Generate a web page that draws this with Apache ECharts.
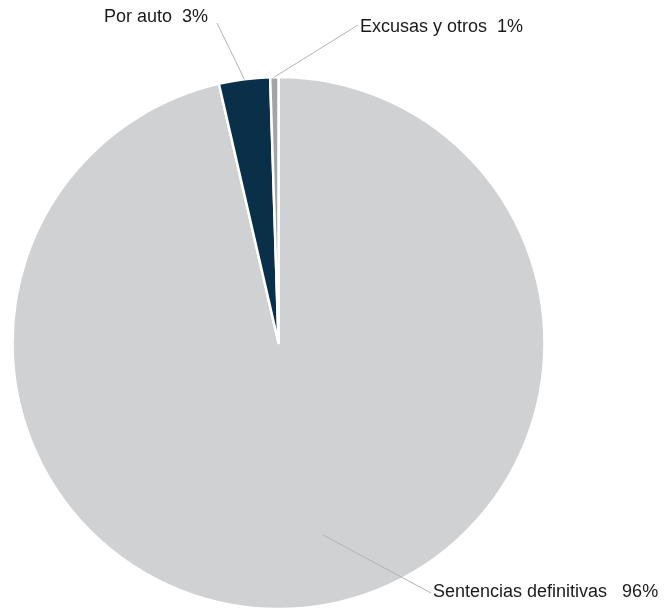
<!DOCTYPE html>
<html>
<head>
<meta charset="utf-8">
<script src="https://cdn.jsdelivr.net/npm/echarts@6/dist/echarts.min.js"></script>
<style>
  html, body { margin: 0; padding: 0; background: #ffffff; }
  #chart { width: 664px; height: 609px; }
</style>
</head>
<body>
<div id="chart"></div>
<script>
// ---- data ----
const categories = ['Sentencias definitivas', 'Por auto', 'Excusas y otros'];
const values = [96.4, 3.1, 0.5];
const colors = ['#D0D1D3', '#0A2F49', '#A3A4A6'];

// ---- label placement (annotation layout) ----
const CX = 278.5, CY = 343, R = 266;
const labelCfg = [
  { x: 433, y: 592, align: 'left',  sep: '   ', startFrac: 0.74, angleOffset: -6.5, end: [431, 593] },
  { x: 208, y: 17,  align: 'right', sep: '  ',  startFrac: 1.0,  angleOffset: 0,    end: [217, 23] },
  { x: 360, y: 27,  align: 'left',  sep: '  ',  startFrac: 1.0,  angleOffset: 0,    end: [358, 25] }
];

const total = values.reduce((a, b) => a + b, 0);
const midAngles = [];
let cum = 0;
values.forEach(v => { midAngles.push((cum + v / 2) / total * 360); cum += v; });

// leader lines: from a point on each slice's mid-angle ray to its label
const leaderLines = labelCfg.map((c, i) => {
  const th = (midAngles[i] + c.angleOffset) * Math.PI / 180;
  const sx = CX + c.startFrac * R * Math.sin(th);
  const sy = CY - c.startFrac * R * Math.cos(th);
  return {
    type: 'polyline',
    z: 100,
    silent: true,
    shape: { points: [[sx, sy], c.end] },
    style: { stroke: '#B4B4B4', lineWidth: 1, fill: null }
  };
});

const chart = echarts.init(document.getElementById('chart'), null, { renderer: 'canvas' });
chart.setOption({
  animation: false,
  backgroundColor: '#ffffff',
  graphic: leaderLines,
  series: [{
    type: 'pie',
    center: [CX, CY],
    radius: [0, R],
    startAngle: 90,
    clockwise: true,
    avoidLabelOverlap: false,
    minShowLabelAngle: 0,
    itemStyle: { borderColor: '#ffffff', borderWidth: 2.5 },
    label: {
      show: true,
      position: 'outside',
      color: '#1a1a1a',
      fontFamily: 'Liberation Sans, Arial, sans-serif',
      fontSize: 18,
      formatter: p => p.name + labelCfg[p.dataIndex].sep + Math.round(p.percent) + '%'
    },
    labelLine: { show: false },
    labelLayout: function (params) {
      const c = labelCfg[params.dataIndex];
      return { x: c.x, y: c.y, align: c.align, verticalAlign: 'middle' };
    },
    data: categories.map((name, i) => ({ name: name, value: values[i], itemStyle: { color: colors[i] } }))
  }]
});
</script>
</body>
</html>
